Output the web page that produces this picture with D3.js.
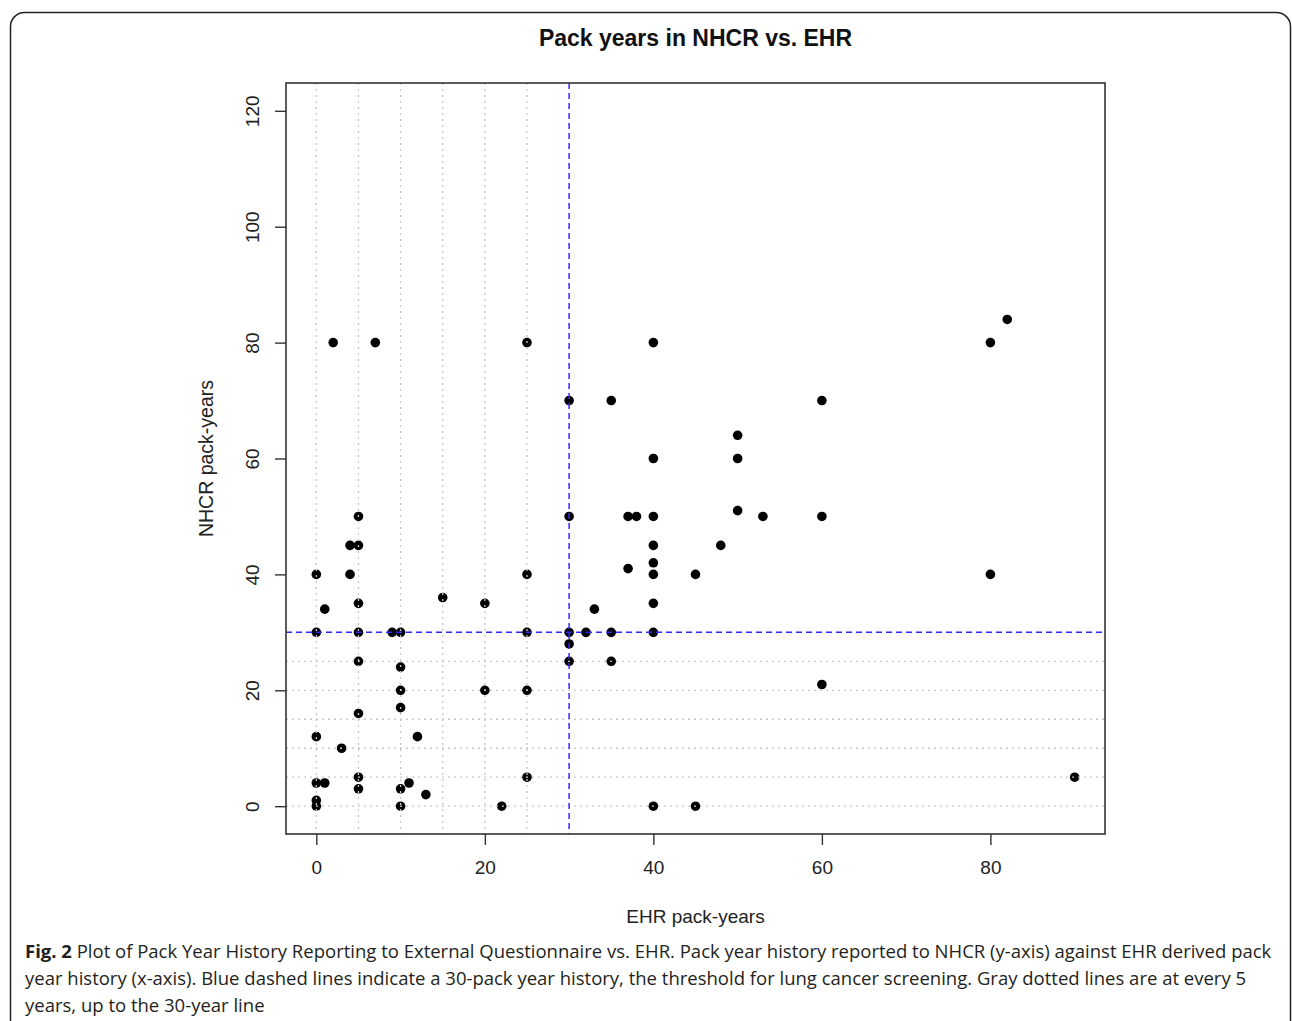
<!DOCTYPE html>
<html>
<head>
<meta charset="utf-8">
<script src="https://cdn.jsdelivr.net/npm/d3@7"></script>
<style>
  body { margin: 0; background: #fff; }
  svg text { font-family: "Liberation Sans", Arial, sans-serif; }
</style>
</head>
<body>
<div id="chart"></div>
<script>
// EHR pack-years (x) against NHCR pack-years (y)
var ehrYears  = [0, 0, 0, 0, 0, 0, 1, 1, 2, 7, 4, 5, 5, 4, 5, 5, 5, 5, 5, 5, 3,
                 9, 10, 10, 10, 10, 10, 10, 11, 12, 13, 15, 20, 20, 22,
                 25, 25, 25, 25, 25, 30, 30, 30, 30, 30, 32, 33, 35, 35, 35,
                 37, 37, 38, 40, 40, 40, 40, 40, 40, 40, 40, 40, 45, 45, 48,
                 50, 50, 50, 53, 60, 60, 60, 80, 82, 80, 90];
var nhcrYears = [40, 30, 12, 4, 1, 0, 34, 4, 80, 80, 45, 45, 50, 40, 35, 30, 25, 16, 5, 3, 10,
                 30, 30, 24, 20, 17, 3, 0, 4, 12, 2, 36, 35, 20, 0,
                 80, 40, 30, 20, 5, 70, 50, 30, 28, 25, 30, 34, 70, 30, 25,
                 41, 50, 50, 80, 60, 50, 45, 42, 40, 35, 30, 0, 40, 0, 45,
                 64, 60, 51, 50, 70, 50, 21, 80, 84, 40, 5];
var xTicks = [0, 20, 40, 60, 80];
var yTicks = [0, 20, 40, 60, 80, 100, 120];
var gridYears = [0, 5, 10, 15, 20, 25];   // gray dotted guides, every 5 years up to 30
var threshold = 30;                         // lung cancer screening threshold

var W = 1292, H = 1021;
var box = {left: 286, right: 1105, top: 83, bottom: 834};

var svg = d3.select("#chart").append("svg").attr("width", W).attr("height", H);

// outer figure frame
svg.append("rect")
  .attr("x", 10.5).attr("y", 12.5).attr("width", 1280).attr("height", 1030)
  .attr("rx", 14).attr("fill", "none").attr("stroke", "#222").attr("stroke-width", 1.5);

// R style 4% padding around the data range
var x = d3.scaleLinear().domain([-3.6, 93.6]).range([box.left, box.right]);
var y = d3.scaleLinear().domain([-4.8, 124.8]).range([box.bottom, box.top]);

// points
svg.append("g").selectAll("circle").data(ehrYears)
  .enter().append("circle")
  .attr("cx", function(d) { return x(d); })
  .attr("cy", function(d, i) { return y(nhcrYears[i]); })
  .attr("r", 4.8)
  .attr("fill", "#000");

// gray dotted guides, drawn on top of the points like abline()
var grid = svg.append("g").attr("stroke", "#c8c8c8").attr("stroke-width", 1.3)
  .attr("stroke-dasharray", "2,4");
grid.selectAll(".gv").data(gridYears).enter().append("line")
  .attr("x1", function(d) { return x(d); }).attr("x2", function(d) { return x(d); })
  .attr("y1", box.top).attr("y2", box.bottom);
grid.selectAll(".gh").data(gridYears).enter().append("line")
  .attr("x1", box.left).attr("x2", box.right)
  .attr("y1", function(d) { return y(d); }).attr("y2", function(d) { return y(d); });

// blue dashed 30 pack-year lines
var blue = svg.append("g").attr("stroke", "#2b2bff").attr("stroke-width", 1.5)
  .attr("stroke-dasharray", "6,4");
blue.append("line").attr("x1", x(threshold)).attr("x2", x(threshold))
  .attr("y1", box.top).attr("y2", box.bottom);
blue.append("line").attr("x1", box.left).attr("x2", box.right)
  .attr("y1", y(threshold)).attr("y2", y(threshold));

// plot box
svg.append("rect")
  .attr("x", box.left).attr("y", box.top)
  .attr("width", box.right - box.left).attr("height", box.bottom - box.top)
  .attr("fill", "none").attr("stroke", "#333").attr("stroke-width", 1.6);

// axes
var xAxis = svg.append("g").attr("transform", "translate(0," + box.bottom + ")")
  .call(d3.axisBottom(x).tickValues(xTicks).tickSize(11).tickPadding(16));
var yAxis = svg.append("g").attr("transform", "translate(" + box.left + ",0)")
  .call(d3.axisLeft(y).tickValues(yTicks).tickSize(11));
[xAxis, yAxis].forEach(function(a) {
  a.select(".domain").remove();
  a.selectAll("line").attr("stroke", "#333").attr("stroke-width", 1.4);
  a.selectAll("text").attr("font-size", 19).attr("fill", "#222")
    .attr("font-family", "Liberation Sans, Arial, sans-serif");
});
// R draws the y tick labels parallel to the axis
yAxis.selectAll(".tick text")
  .attr("transform", "rotate(-90)").attr("x", 0).attr("y", -34)
  .attr("dy", "0.35em").attr("text-anchor", "middle");

// titles
svg.append("text").attr("x", (box.left + box.right) / 2).attr("y", 46)
  .attr("text-anchor", "middle").attr("font-size", 23).attr("font-weight", "bold")
  .attr("fill", "#111").text("Pack years in NHCR vs. EHR");
svg.append("text").attr("x", (box.left + box.right) / 2).attr("y", 923)
  .attr("text-anchor", "middle").attr("font-size", 19).attr("fill", "#222")
  .text("EHR pack-years");
svg.append("text")
  .attr("transform", "translate(213," + ((box.top + box.bottom) / 2) + ") rotate(-90)")
  .attr("text-anchor", "middle").attr("font-size", 19.5).attr("fill", "#222")
  .text("NHCR pack-years");

// caption
var captionLines = [
  "Plot of Pack Year History Reporting to External Questionnaire vs. EHR. Pack year history reported to NHCR (y-axis) against EHR derived pack",
  "year history (x-axis). Blue dashed lines indicate a 30-pack year history, the threshold for lung cancer screening. Gray dotted lines are at every 5",
  "years, up to the 30-year line"
];
var cap = svg.append("g").attr("font-size", 18.5).attr("fill", "#231f20");
captionLines.forEach(function(line, i) {
  var t = cap.append("text").attr("x", 25).attr("y", 958 + i * 27)
    .style("font-family", "'Open Sans', sans-serif");
  if (i === 0) {
    t.append("tspan").attr("font-weight", "bold").text("Fig. 2");
    t.append("tspan").text(" " + line);
  } else {
    t.text(line);
  }
});
</script>
</body>
</html>
